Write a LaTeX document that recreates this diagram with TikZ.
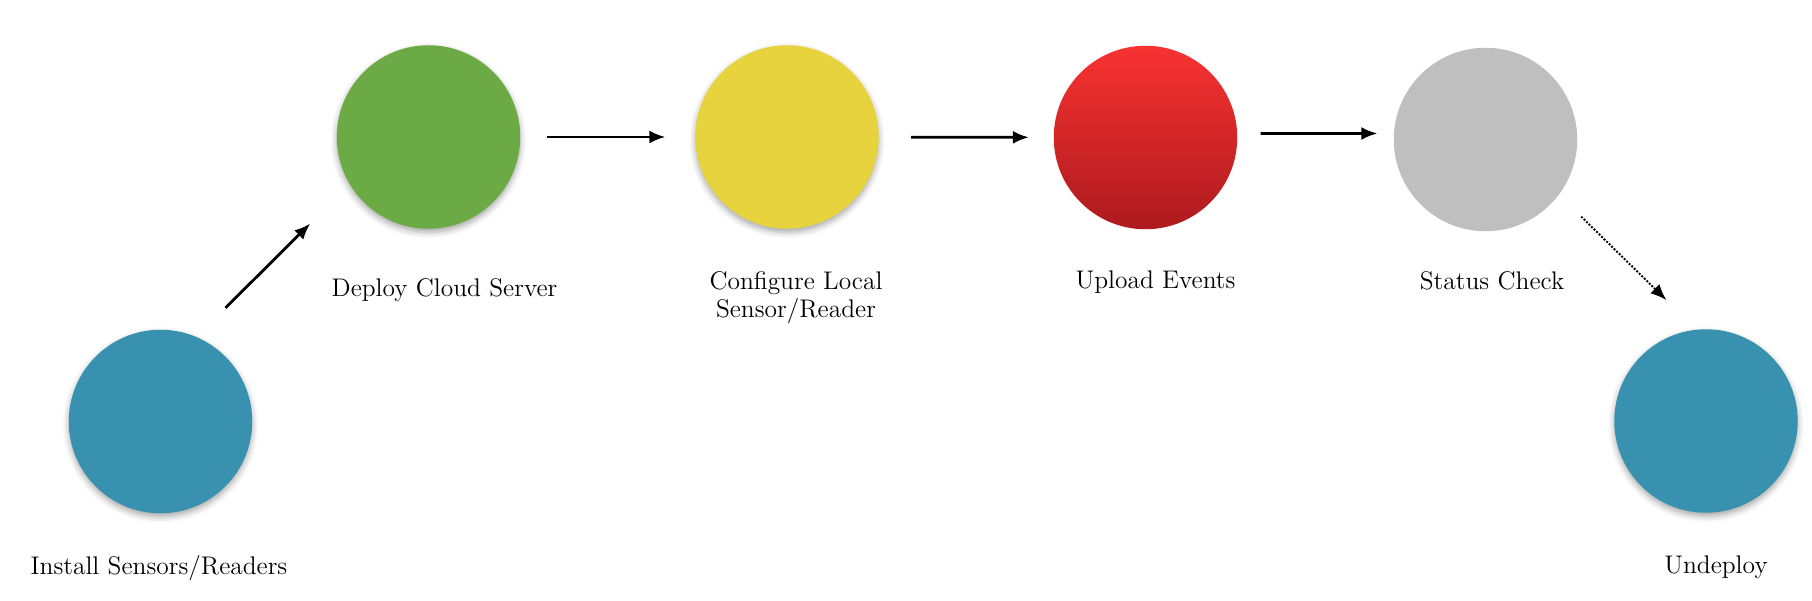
\documentclass[tikz,border=0pt]{standalone}
\usepackage{tikz}
\usetikzlibrary{arrows.meta}
\usetikzlibrary{shadows.blur}
\usepackage{xcolor}
\definecolor{stageblue}{HTML}{3892AF}
\definecolor{stagegreen}{HTML}{6BAA45}
\definecolor{stageyellow}{HTML}{E6D33E}
\definecolor{stagegray}{HTML}{BFBFBF}
\definecolor{uploadtop}{HTML}{F83232}
\definecolor{uploadbottom}{HTML}{AD1A1E}
\tikzset{
	stage/.style={circle, minimum size=3.67cm, inner sep=0pt},
	textured/.style={stage, fill=#1, blur shadow={shadow xshift=0pt, shadow yshift=-0.07cm, shadow blur radius=0.12cm, shadow opacity=35}},
	flow/.style={-{Latex[length=3.2mm,width=2.6mm]}, line width=1.6pt},
	caption/.style={font=\fontsize{14.5}{16}\selectfont, anchor=base, align=center}
}

\begin{document}
\begin{tikzpicture}
\useasboundingbox (0,0) rectangle (36.24,12);
% stages
\node[textured=stageblue] (install) at (3.21,3.57) {};
\node[textured=stagegreen] (deploy) at (8.57,9.26) {};
\node[textured=stageyellow] (config) at (15.74,9.26) {};
\node[stage, top color=uploadtop, bottom color=uploadbottom] (upload) at (22.91,9.25) {};
\node[stage, fill=stagegray] (status) at (29.71,9.21) {};
\node[textured=stageblue] (undeploy) at (34.12,3.58) {};
% captions
\node[caption] (installtxt) at (3.18,0.52) {Install Sensors/Readers};
\node[caption] (deploytxt) at (8.89,6.06) {Deploy Cloud Server};
\node[caption] (configtxt) at (15.92,5.64) {Configure Local\\Sensor/Reader};
\node[caption] (uploadtxt) at (23.11,6.22) {Upload Events};
\node[caption] (statustxt) at (29.84,6.2) {Status Check};
\node[caption] (undeploytxt) at (34.32,0.54) {Undeploy};
% connectors
\draw[flow, shorten <=0.82cm, shorten >=1.11cm] (install.67) -- (deploy.211);
\draw[flow, shorten <=0.53cm, shorten >=0.59cm] (deploy) -- (config);
\draw[flow, shorten <=0.64cm, shorten >=0.49cm] (config) -- (upload);
\draw[flow, shorten <=0.46cm, shorten >=0.32cm] ([yshift=0.08cm]upload.east) -- ([yshift=0.12cm]status.west);
\draw[flow, line width=1.1pt, dash pattern=on 1.1pt off 0.9pt, shorten <=0.62cm, shorten >=0.84cm] (status.323) -- (undeploy.96);
\end{tikzpicture}
\end{document}
